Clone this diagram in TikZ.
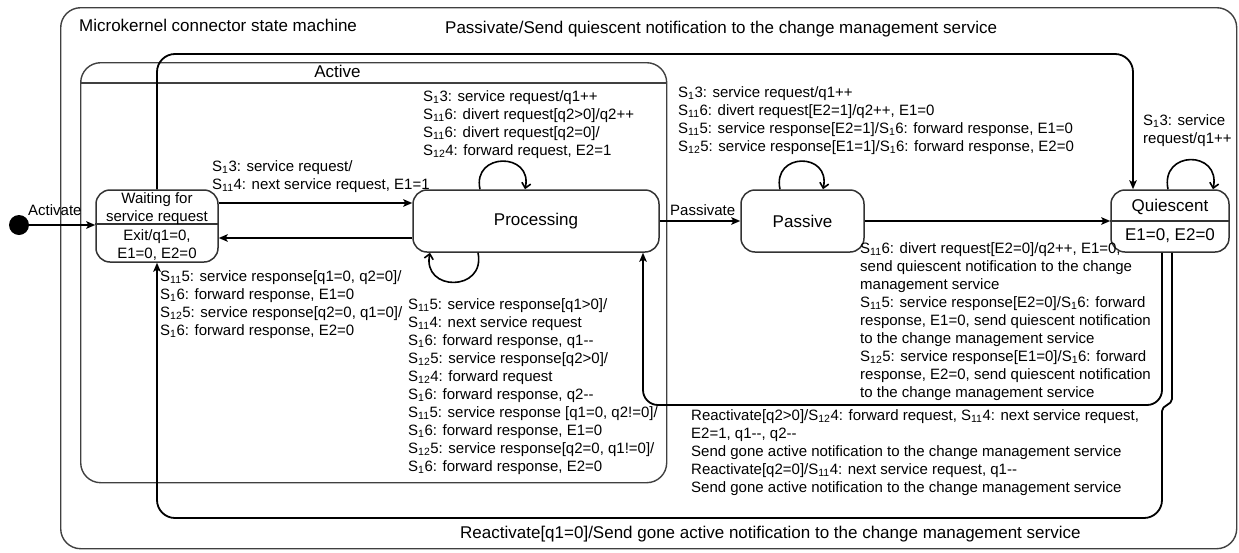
\documentclass[tikz,border=0pt]{standalone}
\usepackage{fontspec}
\setmainfont{Liberation Sans}
\usetikzlibrary{arrows.meta,calc}
\newcommand{\Ss}[1]{S\textsubscript{#1}}

\begin{document}
\begin{tikzpicture}[x=1pt,y=-1pt,
  frame/.style={draw=black!75, line width=1.4pt, rounded corners=20pt, inner sep=0pt},
  framebd/.style={draw=black!75, line width=1.4pt},
  state/.style={draw=black!80, line width=1.5pt, rounded corners=14pt, inner sep=0pt},
  statebd/.style={draw=black!80, line width=1.5pt},
  big/.style={font=\fontsize{17}{20}\selectfont},
  small/.style={font=\fontsize{15}{18}\selectfont},
  trans/.style={draw=black, line width=1.8pt, -{Stealth[length=9pt,width=7.5pt,inset=2pt]}},
  selfloop/.style={draw=black, line width=1.6pt, -{Straight Barb[length=5pt,width=9pt]}},
  lbl/.style={small, align=left, inner sep=0pt, anchor=north west, execute at begin node=\strut},
  ttl/.style={big, inner sep=0pt, anchor=base west}]

\useasboundingbox (0,0) rectangle (1239,552);

% enclosing state machine and the Active composite state
\node[frame, minimum width=1176pt, minimum height=541pt, anchor=north west] (machine) at (60,7) {};
\node[ttl] (machinettl) at (79,31.5) {Microkernel connector state machine};

\node[frame, minimum width=586pt, minimum height=420pt, anchor=north west] (active) at (80,62) {};
\draw[framebd] (active.west |- 0,83) -- (active.east |- 0,83);
\node[big, inner sep=0pt, anchor=base] (activettl) at (337.5,77.3) {Active};

% states
\node[circle, fill=black, minimum size=20pt, inner sep=0pt] (init) at (19,225) {};

\node[state, minimum width=122pt, minimum height=72pt] (wait) at (157,226) {};
\draw[statebd] (wait.west |- 0,224) -- (wait.east |- 0,224);
\node[small, align=center, inner sep=0pt] (waitname) at (157,208.5) {Waiting for\\service request};
\node[small, align=center, inner sep=0pt] (waitexit) at (157,245.5) {Exit/q1=0,\\E1=0, E2=0};

\node[state, big, minimum width=246pt, minimum height=62pt] (proc) at (536,221) {Processing};
\node[state, big, minimum width=123pt, minimum height=62pt] (pass) at (802.5,221) {Passive};

\node[state, minimum width=118pt, minimum height=62pt] (qui) at (1170,221) {};
\draw[statebd] (qui.west |- 0,221) -- (qui.east |- 0,221);
\node[big, inner sep=0pt, anchor=base] (quiname) at (1170,211) {Quiescent};
\node[big, inner sep=0pt, anchor=base] (quivars) at (1170,240.5) {E1=0, E2=0};

% transitions
\draw[trans] (init) -- (init -| wait.west);
\node[lbl] (lblActivate) at (28,203) {Activate};

\draw[trans] (wait.east |- 0,203) -- (proc.west |- 0,203);
\node[lbl] (lblWP) at (212,160) {\Ss{1}3: service request/\\\Ss{11}4: next service request, E1=1};

\draw[trans] (proc.west |- 0,238) -- (wait.east |- 0,238);

\draw[trans] (proc.east) -- (pass.west);
\node[lbl] (lblPassivate) at (670,203) {Passivate};

\draw[trans] (pass.east) -- (qui.west);

\draw[trans, rounded corners=18pt] (wait.north) -- (wait.north |- 0,54) -- (1133,54) -- (qui.north -| 1133,0);
\node[ttl] (lblNotify) at (445,33) {Passivate/Send quiescent notification to the change management service};

\draw[trans, rounded corners=15pt] (qui.south -| 1162,0) -- (1162,405) -- (643,405) -- (proc.south -| 643,0);
\node[lbl] (lblQP) at (691,409) {Reactivate[q2>0]/\Ss{12}4: forward request, \Ss{11}4: next service request,\\E2=1, q1-{}-, q2-{}-\\Send gone active notification to the change management service\\Reactivate[q2=0]/\Ss{11}4: next service request, q1-{}-\\Send gone active notification to the change management service};

\draw[trans] (qui.south -| 1172,0) -- (1172,399) .. controls (1172,405) and (1162,405) .. (1162,411)
  [rounded corners=18pt] -- (1162,518) -- (wait.south |- 0,518) -- (wait.south);
\node[ttl] (lblReact) at (460,538) {Reactivate[q1=0]/Send gone active notification to the change management service};

% self transitions
\draw[selfloop] (proc.north -| 480,0) .. controls (472,152) and (533,152) .. (proc.north -| 525,0);
\node[lbl] (lblProcTop) at (423,90) {\Ss{1}3: service request/q1++\\\Ss{11}6: divert request[q2>0]/q2++\\\Ss{11}6: divert request[q2=0]/\\\Ss{12}4: forward request, E2=1};

\draw[selfloop] (proc.south -| 478,0) .. controls (486,292) and (422,292) .. (proc.south -| 430,0);
\node[lbl] (lblProcBot) at (408,298) {\Ss{11}5: service response[q1>0]/\\\Ss{11}4: next service request\\\Ss{1}6: forward response, q1-{}-\\\Ss{12}5: service response[q2>0]/\\\Ss{12}4: forward request\\\Ss{1}6: forward response, q2-{}-\\\Ss{11}5: service response [q1=0, q2!=0]/\\\Ss{1}6: forward response, E1=0\\\Ss{12}5: service response[q2=0, q1!=0]/\\\Ss{1}6: forward response, E2=0};

\node[lbl] (lblPW) at (160,270) {\Ss{11}5: service response[q1=0, q2=0]/\\\Ss{1}6: forward response, E1=0\\\Ss{12}5: service response[q2=0, q1=0]/\\\Ss{1}6: forward response, E2=0};

\draw[selfloop] (pass.north -| 780,0) .. controls (772,152) and (831,152) .. (pass.north -| 823,0);
\node[lbl] (lblPassTop) at (678,86) {\Ss{1}3: service request/q1++\\\Ss{11}6: divert request[E2=1]/q2++, E1=0\\\Ss{11}5: service response[E2=1]/\Ss{1}6: forward response, E1=0\\\Ss{12}5: service response[E1=1]/\Ss{1}6: forward response, E2=0};

\node[lbl] (lblPQ) at (860,242) {\Ss{11}6: divert request[E2=0]/q2++, E1=0,\\send quiescent notification to the change\\management service\\\Ss{11}5: service response[E2=0]/\Ss{1}6: forward\\response, E1=0, send quiescent notification\\to the change management service\\\Ss{12}5: service response[E1=0]/\Ss{1}6: forward\\response, E2=0, send quiescent notification\\to the change management service};

\draw[selfloop] (qui.north -| 1168,0) .. controls (1160,150) and (1221,150) .. (qui.north -| 1213,0);
\node[lbl] (lblQuiLoop) at (1143,114) {\Ss{1}3: service\\request/q1++};

\end{tikzpicture}
\end{document}
